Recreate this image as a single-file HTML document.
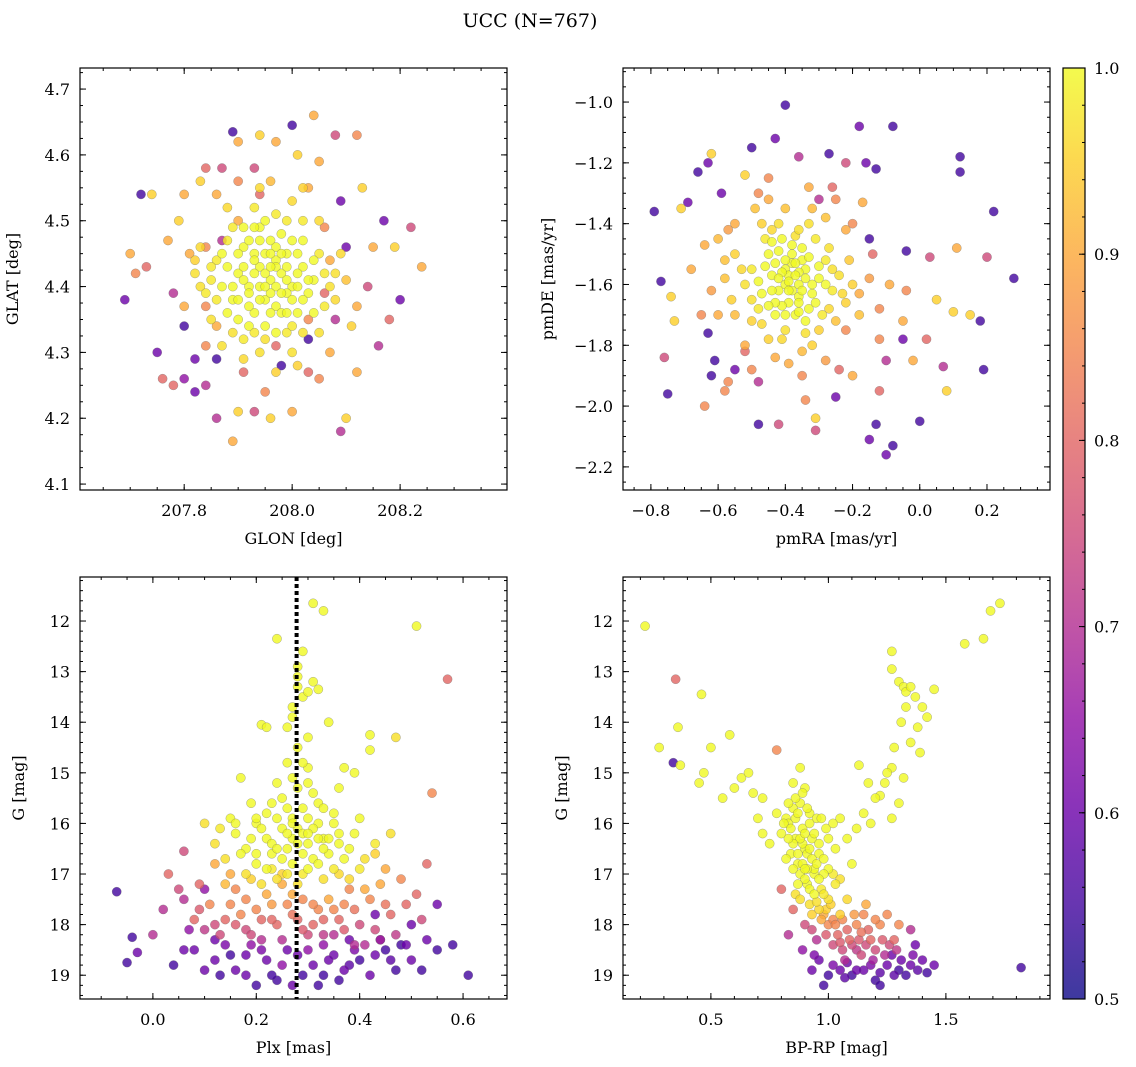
<!DOCTYPE html>
<html><head><meta charset="utf-8"><style>
html,body{margin:0;padding:0;background:#fff;}
svg{display:block;font-family:"DejaVu Serif","Liberation Serif",serif;}
</style></head><body>
<svg id="chart" width="1136" height="1067" viewBox="0 0 1136 1067" xmlns="http://www.w3.org/2000/svg">
<rect width="1136" height="1067" fill="#fff"/>
<text x="530" y="27" text-anchor="middle" font-size="19">UCC (N=767)</text>
</svg>
<script>
// ---- data (x, y, membership probability) ----
const posPoints = [
[207.89,4.635,.55],[207.72,4.54,.55],[207.74,4.54,.95],[207.70,4.45,.9],[207.69,4.38,.6],[207.73,4.43,.8],[207.71,4.42,.85],[207.75,4.30,.6],[207.76,4.26,.8],[207.78,4.25,.8],[207.80,4.26,.65],[207.82,4.24,.6],[207.84,4.25,.7],[207.86,4.20,.7],[207.89,4.165,.9],[207.90,4.21,.95],[207.93,4.21,.75],[207.96,4.20,.95],[208.0,4.21,.9],[208.03,4.27,.8],[208.05,4.26,.85],[208.09,4.18,.7],[208.10,4.20,.95],[208.12,4.27,.9],[208.16,4.31,.7],[208.18,4.35,.8],[208.2,4.38,.6],[208.19,4.46,.95],[208.22,4.49,.75],[208.24,4.43,.9],[208.17,4.50,.6],[208.13,4.55,.95],[208.12,4.63,.85],[208.08,4.63,.75],[208.05,4.59,.9],[208.04,4.66,.9],[208.0,4.645,.55],[208.01,4.60,.95],[207.97,4.62,.9],[207.94,4.63,.95],[207.90,4.62,.9],[207.87,4.58,.75],[207.84,4.58,.8],[207.83,4.56,.95],[207.8,4.54,.9],[207.79,4.50,.95],[207.77,4.47,.9],[207.78,4.39,.7],[207.80,4.34,.55],[207.82,4.29,.6],[207.86,4.29,.55],[207.91,4.27,.8],[207.95,4.24,.85],[207.98,4.28,.55],[208.03,4.32,.55],[208.08,4.35,.7],[208.14,4.40,.75],[208.10,4.46,.6],[208.09,4.53,.6],[208.06,4.49,.85],[207.94,4.54,.8],[207.87,4.47,.7],[207.82,4.44,.95],[207.84,4.37,.85],[207.97,4.31,.8],[208.06,4.39,.8],[208.11,4.34,.95],[208.15,4.46,.9],[207.93,4.58,.75],[208.02,4.55,.95],
[207.90,4.42,1],[207.92,4.40,1],[207.94,4.43,1],[207.96,4.41,1],[207.98,4.42,1],[208.00,4.40,1],[207.95,4.38,1],[207.97,4.37,1],[207.93,4.36,1],[207.99,4.45,1],[207.91,4.46,1],[207.88,4.43,1],[208.02,4.43,1],[208.03,4.39,1],[207.96,4.47,1],[207.94,4.49,1],[207.98,4.48,1],[207.92,4.39,1],[207.89,4.38,1],[207.87,4.40,1],[207.86,4.44,.98],[208.01,4.36,1],[207.95,4.34,1],[207.99,4.33,.98],[208.04,4.41,1],[208.05,4.45,.98],[207.90,4.35,1],[207.93,4.45,1],[207.97,4.44,1],[207.95,4.42,1],[208.00,4.47,1],[207.92,4.47,1],[207.88,4.47,.98],[207.85,4.41,.98],[207.91,4.32,.98],[207.97,4.40,1],[208.02,4.38,1],[207.94,4.40,1],[207.96,4.39,1],[207.98,4.36,1],[207.91,4.43,1],[207.99,4.41,1],[208.06,4.37,.98],[207.84,4.39,.98],[207.93,4.52,.98],[207.97,4.51,.98],[208.02,4.50,.98],[207.89,4.49,.98],[207.85,4.35,.97],[208.05,4.33,.97],[207.87,4.31,.97],[207.94,4.30,.97],[208.00,4.30,.97],[208.08,4.42,.97],[207.82,4.42,.97],[207.95,4.45,1],[207.93,4.42,1],[207.97,4.43,1],[207.99,4.39,1],[208.01,4.42,1],
[207.84,4.46,.85],[208.07,4.44,.9],[207.90,4.50,.9],[208.03,4.35,.85],[207.86,4.34,.9],
[207.91,4.41,1],[207.93,4.44,1],[207.95,4.40,1],[207.97,4.46,1],[207.99,4.43,1],[208.01,4.45,1],[208.03,4.41,1],[207.92,4.37,1],[207.96,4.36,1],[208.00,4.38,1],[207.89,4.40,1],[207.90,4.45,1],[207.94,4.47,1],[207.98,4.39,1],[208.02,4.47,1],[207.96,4.43,1],[207.94,4.38,1],[207.88,4.36,1],[207.92,4.34,1],[208.04,4.36,1],[208.00,4.34,.98],[207.97,4.33,1],[207.93,4.49,1],[207.99,4.50,.98],[207.87,4.45,1],[207.85,4.43,.98],[208.06,4.42,.98],[208.07,4.40,.97],[207.95,4.50,1],[207.91,4.49,1],[207.98,4.45,1],[207.96,4.45,1],[208.01,4.40,1],[207.90,4.38,1],[207.86,4.38,.98],[208.04,4.44,1],[207.93,4.33,.98],[207.99,4.36,1],[208.02,4.33,.97],[207.95,4.32,.97],[207.89,4.33,.97],[207.83,4.40,.97],[207.83,4.46,.96],[208.08,4.38,.96],[208.09,4.45,.96],[207.94,4.55,.96],[208.00,4.53,.96],[207.88,4.52,.96],[208.05,4.50,.96],[207.91,4.29,.96],[208.01,4.28,.95],[207.97,4.27,.95],[207.80,4.37,.9],[207.81,4.45,.9],[208.10,4.41,.93],[208.12,4.37,.9],[207.86,4.54,.9],[208.03,4.55,.9],[207.96,4.56,.92],[207.90,4.56,.85],[208.07,4.30,.9],[207.84,4.31,.85]
];
const pmPoints = [
[-0.79,-1.36,.55],[-0.77,-1.59,.55],[-0.75,-1.96,.55],[-0.76,-1.84,.75],[-0.74,-1.64,.95],[-0.73,-1.72,.95],[-0.71,-1.35,.95],[-0.69,-1.33,.6],[-0.66,-1.23,.55],[-0.63,-1.20,.6],[-0.62,-1.17,.95],[-0.64,-1.47,.9],[-0.64,-2.00,.85],[-0.63,-1.76,.55],[-0.61,-1.85,.55],[-0.59,-1.30,.6],[-0.57,-1.92,.85],[-0.55,-1.88,.6],[-0.52,-1.24,.95],[-0.50,-1.15,.55],[-0.48,-2.06,.55],[-0.43,-1.12,.6],[-0.42,-2.06,.75],[-0.40,-1.01,.55],[-0.36,-1.18,.7],[-0.34,-1.98,.85],[-0.31,-2.04,.95],[-0.31,-2.08,.75],[-0.30,-1.32,.7],[-0.27,-1.17,.55],[-0.25,-1.97,.6],[-0.22,-1.20,.75],[-0.20,-1.40,.85],[-0.18,-1.08,.6],[-0.16,-1.20,.6],[-0.13,-1.22,.55],[-0.15,-2.11,.6],[-0.13,-2.06,.55],[-0.12,-1.95,.8],[-0.10,-2.16,.6],[-0.08,-2.13,.55],[-0.09,-1.60,.9],[-0.05,-1.72,.9],[-0.04,-1.49,.55],[-0.02,-1.85,.9],[0.0,-2.05,.55],[0.02,-1.78,.8],[0.03,-1.51,.75],[0.05,-1.65,.95],[0.07,-1.87,.7],[0.08,-1.95,.95],[0.10,-1.69,.95],[0.11,-1.48,.9],[0.12,-1.18,.55],[0.12,-1.23,.55],[0.15,-1.70,.95],[0.18,-1.72,.55],[0.19,-1.88,.55],[0.20,-1.51,.75],[0.22,-1.36,.55],[0.28,-1.58,.55],[-0.08,-1.08,.55],[-0.14,-1.50,.8],[-0.17,-1.33,.9],[-0.22,-1.75,.85],[-0.12,-1.78,.85],[-0.24,-1.88,.8],[-0.55,-1.40,.9],[-0.60,-1.70,.9],[-0.68,-1.55,.9],[-0.58,-1.95,.85],[-0.20,-1.90,.9],[-0.10,-1.85,.7],[-0.04,-1.62,.85],[-0.26,-1.28,.8],[-0.45,-1.25,.85],[-0.33,-1.28,.9],[-0.52,-1.82,.8],[-0.15,-1.45,.55],[-0.05,-1.78,.6],[-0.48,-1.92,.7],[-0.62,-1.90,.55],
[-0.40,-1.55,1],[-0.36,-1.60,1],[-0.42,-1.62,1],[-0.34,-1.55,1],[-0.38,-1.50,1],[-0.44,-1.57,1],[-0.32,-1.63,1],[-0.39,-1.66,1],[-0.45,-1.50,1],[-0.30,-1.58,1],[-0.41,-1.45,1],[-0.35,-1.48,1],[-0.47,-1.63,1],[-0.28,-1.52,.98],[-0.37,-1.70,1],[-0.43,-1.70,1],[-0.33,-1.68,1],[-0.50,-1.55,.98],[-0.26,-1.62,.98],[-0.40,-1.60,1],[-0.36,-1.56,1],[-0.38,-1.53,1],[-0.46,-1.45,.98],[-0.31,-1.45,.98],[-0.48,-1.68,.98],[-0.29,-1.70,.98],[-0.52,-1.60,.97],[-0.24,-1.57,.97],[-0.40,-1.75,.97],[-0.34,-1.76,.97],[-0.45,-1.78,.95],[-0.55,-1.50,.95],[-0.42,-1.40,.97],[-0.33,-1.40,.97],[-0.22,-1.66,.95],[-0.50,-1.72,.95],[-0.38,-1.62,1],[-0.35,-1.52,1],[-0.43,-1.53,1],[-0.39,-1.57,1],[-0.27,-1.48,.97],[-0.56,-1.65,.95],[-0.30,-1.75,.95],[-0.20,-1.60,.95],[-0.47,-1.40,.95],[-0.37,-1.44,.97],[-0.41,-1.67,1],[-0.32,-1.60,1],[-0.44,-1.62,1],[-0.36,-1.64,1],[-0.58,-1.58,.93],[-0.25,-1.72,.93],[-0.18,-1.70,.93],[-0.52,-1.80,.9],[-0.43,-1.84,.9],[-0.35,-1.82,.92],[-0.60,-1.45,.92],[-0.28,-1.38,.93],[-0.40,-1.35,.93],[-0.49,-1.35,.93],
[-0.39,-1.59,1],[-0.37,-1.57,1],[-0.41,-1.56,1],[-0.35,-1.62,1],[-0.43,-1.66,1],[-0.33,-1.51,1],[-0.46,-1.54,1],[-0.31,-1.66,1],[-0.38,-1.47,1],[-0.42,-1.49,1],[-0.34,-1.72,1],[-0.40,-1.70,1],[-0.48,-1.59,1],[-0.28,-1.60,1],[-0.36,-1.66,1],[-0.44,-1.46,1],[-0.39,-1.62,1],[-0.37,-1.53,1],[-0.45,-1.67,1],[-0.30,-1.54,1],[-0.50,-1.65,.97],[-0.26,-1.55,.97],[-0.53,-1.55,.96],[-0.23,-1.63,.96],[-0.41,-1.78,.96],[-0.36,-1.42,.97],[-0.44,-1.42,.96],[-0.32,-1.80,.95],[-0.47,-1.73,.96],[-0.27,-1.68,.96],[-0.55,-1.70,.92],[-0.21,-1.52,.94],[-0.58,-1.52,.93],[-0.18,-1.63,.9],[-0.39,-1.86,.9],[-0.45,-1.32,.9],[-0.32,-1.35,.92],[-0.62,-1.62,.88],[-0.15,-1.58,.88],[-0.28,-1.85,.88],[-0.50,-1.88,.85],[-0.57,-1.42,.88],[-0.22,-1.42,.9],[-0.65,-1.70,.85],[-0.12,-1.68,.85],[-0.35,-1.90,.85],[-0.48,-1.30,.85],[-0.25,-1.32,.85],[-0.42,-1.58,1],[-0.34,-1.58,1],[-0.40,-1.52,1],[-0.36,-1.69,1]
];
const plxPoints = [
[-0.07,17.35,.55],[-0.04,18.25,.55],[-0.05,18.75,.55],[-0.03,18.55,.6],[0.0,18.2,.7],[0.04,18.8,.55],[0.06,17.5,.7],[0.08,18.5,.6],[0.10,18.9,.6],[0.13,19.0,.55],[0.15,18.6,.55],[0.18,19.0,.6],[0.20,19.2,.55],[0.22,18.7,.6],[0.24,19.1,.55],[0.27,19.2,.6],[0.29,19.0,.55],[0.31,18.8,.6],[0.33,19.0,.55],[0.35,18.6,.6],[0.37,18.9,.6],[0.40,18.7,.55],[0.42,19.0,.6],[0.45,18.5,.55],[0.47,18.9,.55],[0.50,18.7,.6],[0.52,18.9,.55],[0.55,18.5,.55],[0.58,18.4,.55],[0.61,19.0,.55],[0.55,17.6,.6],[0.50,18.0,.6],[0.48,18.4,.55],[0.43,17.8,.6],[0.38,18.3,.6],[0.33,18.4,.65],[0.26,18.5,.6],[0.19,18.4,.65],[0.12,18.3,.6],[0.07,18.1,.65],[0.02,17.7,.7],[0.16,18.9,.6],[0.25,18.8,.65],[0.36,19.1,.55],[0.44,18.3,.6],[0.10,17.3,.65],
[0.03,17.0,.8],[0.06,16.55,.75],[0.09,17.2,.8],[0.11,17.6,.85],[0.14,17.9,.8],[0.16,17.3,.85],[0.18,18.1,.75],[0.20,17.7,.85],[0.22,17.4,.9],[0.24,18.0,.8],[0.26,17.6,.85],[0.28,17.9,.8],[0.30,18.2,.75],[0.32,17.7,.85],[0.34,17.5,.9],[0.36,17.9,.8],[0.38,17.3,.85],[0.40,18.0,.75],[0.42,17.5,.85],[0.44,17.2,.9],[0.46,17.8,.8],[0.48,17.1,.85],[0.51,17.4,.8],[0.53,16.8,.8],[0.57,13.15,.8],[0.54,15.4,.85],[0.13,18.2,.75],[0.21,18.3,.7],[0.35,18.2,.7],[0.41,18.4,.7],[0.08,17.9,.8],[0.17,17.8,.85],[0.29,17.5,.85],[0.37,17.6,.85],[0.25,17.2,.9],[0.15,17.0,.9],[0.45,16.9,.9],[0.12,16.8,.9],[0.31,18.0,.8],[0.23,17.9,.8],
[0.2,16.0,1],[0.22,16.3,1],[0.24,15.9,1],[0.26,16.5,1],[0.28,16.1,1],[0.30,16.4,1],[0.32,16.0,1],[0.34,16.6,1],[0.18,16.5,1],[0.16,16.2,1],[0.36,16.2,1],[0.27,16.8,1],[0.29,17.0,.98],[0.23,16.9,.98],[0.33,17.1,.97],[0.21,17.2,.97],[0.25,15.5,1],[0.29,15.7,1],[0.31,15.4,1],[0.19,15.6,1],[0.35,15.8,1],[0.38,16.5,1],[0.40,16.9,.98],[0.14,16.7,.97],[0.12,16.4,.97],[0.17,15.1,1],[0.26,14.8,1],[0.28,14.5,1],[0.30,14.3,1],[0.27,13.9,1],[0.29,13.5,1],[0.28,13.3,1],[0.30,13.4,1],[0.32,13.35,1],[0.28,12.9,1],[0.29,12.6,1],[0.31,11.65,1],[0.33,11.8,1],[0.24,12.35,1],[0.51,12.1,1],[0.21,14.05,1],[0.22,14.1,1],[0.37,14.9,1],[0.39,15.0,1],[0.42,14.25,1],[0.47,14.3,.97],[0.42,14.55,1],[0.36,15.3,1],[0.24,15.2,1],[0.20,16.8,1],[0.27,16.3,1],[0.31,16.7,1],[0.25,16.1,1],[0.35,16.9,.98],[0.15,15.9,1],[0.40,15.9,1],[0.43,16.4,.98],[0.22,15.8,1],[0.26,17.0,.98],[0.32,15.6,1],[0.18,17.0,.97],[0.38,17.1,.96],[0.10,16.0,.97],[0.46,16.2,.97],[0.34,14.0,1],[0.30,14.9,1],[0.23,16.6,1],[0.29,16.2,1],[0.33,16.3,1],[0.27,15.9,1],
[0.21,16.1,1],[0.23,16.4,1],[0.25,16.7,1],[0.27,16.0,1],[0.29,16.6,1],[0.31,16.1,1],[0.33,16.5,1],[0.35,16.0,1],[0.19,16.3,1],[0.17,16.6,1],[0.22,16.9,1],[0.24,17.1,.97],[0.28,17.2,.97],[0.30,16.9,1],[0.32,16.8,1],[0.34,16.3,1],[0.37,16.7,1],[0.26,15.7,1],[0.28,15.3,1],[0.30,15.9,1],[0.23,15.6,1],[0.20,15.9,1],[0.33,15.7,1],[0.36,16.4,1],[0.39,16.2,1],[0.41,16.7,.97],[0.16,16.0,1],[0.13,16.1,.98],[0.26,16.2,1],[0.28,16.4,1],[0.24,16.5,1],[0.30,16.2,1],[0.32,16.3,1],[0.20,16.6,1],[0.27,15.1,1],[0.29,14.8,1],[0.26,14.1,1],[0.27,13.7,1],[0.31,13.2,1],[0.28,13.1,1],[0.30,15.2,1],[0.25,17.0,.95],[0.36,17.0,.96],[0.19,17.1,.95],[0.43,16.6,.95],[0.14,17.2,.92],
[0.05,17.3,.75],[0.09,17.7,.78],[0.12,18.0,.75],[0.15,17.6,.85],[0.18,17.5,.85],[0.21,17.9,.8],[0.23,17.6,.88],[0.27,17.8,.82],[0.29,18.1,.78],[0.31,17.6,.85],[0.33,17.9,.8],[0.35,17.7,.85],[0.37,18.1,.78],[0.39,17.7,.82],[0.41,17.3,.9],[0.43,18.1,.75],[0.45,17.6,.82],[0.47,18.2,.72],[0.49,17.6,.8],[0.52,17.9,.75],[0.19,18.2,.75],[0.25,18.3,.7],[0.33,18.2,.72],[0.27,17.4,.9],[0.16,18.0,.78],[0.10,18.1,.72],[0.39,18.4,.7],[0.44,18.3,.68],
[0.14,18.4,.62],[0.18,18.6,.6],[0.21,18.5,.62],[0.28,18.6,.6],[0.30,18.5,.65],[0.34,18.7,.6],[0.39,18.5,.62],[0.43,18.6,.6],[0.46,18.7,.58],[0.53,18.3,.6],[0.23,19.0,.55],[0.32,19.2,.55],[0.12,18.7,.6],[0.06,18.5,.6],[0.49,18.4,.6],[0.38,18.8,.58]
];
const cmdPoints = [
[0.22,12.1,1],[0.28,14.5,1],[0.34,14.8,.55],[0.36,14.1,1],[0.37,14.85,1],[0.46,13.45,1],[0.45,15.2,1],[0.47,15.0,1],[0.50,14.5,1],[0.55,15.5,1],[0.58,14.25,1],[0.60,15.3,1],[0.63,15.1,1],[0.66,15.0,1],[0.68,15.4,1],[0.70,15.9,1],[0.72,15.5,1],[0.35,13.15,.8],[0.78,14.55,.85],
[1.27,12.95,1],[1.27,12.6,1],[1.30,13.2,1],[1.32,13.3,1],[1.33,13.4,1],[1.35,13.3,1],[1.37,13.5,1],[1.40,13.7,1],[1.45,13.35,1],[1.42,13.9,1],[1.38,14.1,1],[1.39,14.6,1],[1.35,14.4,1],[1.33,13.7,1],[1.31,14.0,1],[1.28,14.5,1],[1.27,14.9,1],[1.25,15.0,1],[1.24,15.2,1],[1.22,15.45,1],[1.20,15.5,1],[1.17,15.2,1],[1.13,14.85,1],[1.58,12.45,1],[1.66,12.35,1],[1.69,11.8,1],[1.73,11.65,1],[1.30,15.6,1],[1.27,15.9,1],[1.32,15.1,1],
[0.78,15.8,1],[0.82,15.9,1],[0.85,15.7,1],[0.88,15.6,1],[0.80,16.2,1],[0.83,16.0,1],[0.86,16.3,1],[0.89,16.1,1],[0.92,15.8,1],[0.95,15.9,1],[0.84,16.6,1],[0.87,16.8,1],[0.90,16.5,1],[0.93,16.3,1],[0.96,16.6,1],[0.99,16.1,1],[1.02,16.0,1],[1.05,15.9,1],[0.88,17.0,1],[0.91,17.2,1],[0.94,17.0,1],[0.97,17.3,.98],[1.00,16.9,1],[0.86,17.4,.97],[0.92,17.6,.97],[0.96,17.7,.96],[1.00,17.5,.97],[1.03,17.2,.98],[0.82,16.7,1],[0.75,16.4,1],[0.72,16.2,1],[1.08,16.3,1],[1.12,16.1,1],[1.15,15.8,1],[0.90,15.3,1],[0.85,15.2,1],[0.88,14.9,1],[1.05,17.8,.95],[1.08,17.5,.96],[0.94,16.9,1],[0.89,16.4,1],[0.91,16.9,1],[0.98,17.0,1],[1.18,16.0,1],[1.10,16.8,1],
[1.00,18.0,.85],[1.04,18.2,.8],[1.08,18.1,.8],[1.12,18.0,.85],[1.15,17.8,.85],[1.18,18.3,.8],[1.22,18.0,.85],[1.25,17.8,.85],[0.98,17.8,.9],[1.06,18.5,.75],[1.10,18.4,.75],[1.14,18.6,.75],[1.20,18.5,.75],[0.95,18.3,.7],[0.90,18.0,.75],[0.85,17.7,.8],[0.80,17.3,.8],[1.30,18.0,.85],[1.28,18.3,.8],[1.02,18.4,.75],[0.83,18.2,.7],[1.16,17.6,.9],[1.35,18.1,.7],
[0.96,18.7,.6],[1.00,19.0,.55],[1.05,18.9,.6],[1.10,19.0,.55],[1.15,18.9,.6],[1.20,19.1,.55],[1.25,18.8,.6],[1.30,18.9,.55],[1.35,18.8,.6],[1.40,18.7,.6],[1.45,18.8,.6],[1.42,18.95,.55],[0.98,19.2,.55],[1.22,19.2,.55],[0.93,18.9,.6],[1.82,18.85,.55],[1.27,18.6,.6],[1.37,18.4,.6],[1.33,19.0,.55],[1.08,18.75,.6],[0.89,18.5,.65],
[0.84,16.1,1],[0.86,15.9,1],[0.88,16.3,1],[0.90,16.2,1],[0.92,16.0,1],[0.94,16.2,1],[0.96,16.4,1],[0.85,16.4,1],[0.87,16.6,1],[0.89,16.8,1],[0.91,16.6,1],[0.93,16.7,1],[0.95,16.8,1],[0.90,17.1,1],[0.92,17.3,1],[0.94,17.4,1],[0.96,17.1,1],[0.98,17.4,.98],[0.99,17.7,.95],[1.01,17.6,.95],[0.93,17.8,.95],[0.95,17.55,.97],[0.87,17.2,1],[0.85,16.9,1],[0.83,16.3,1],[0.81,16.0,1],[0.87,15.8,1],[0.91,15.7,1],[0.97,15.9,1],[1.00,16.3,1],[1.03,16.5,1],[0.98,16.7,1],[1.02,17.0,.98],[1.05,17.1,.97],[0.86,15.5,1],[0.89,15.4,1],[0.83,15.6,1],[0.90,16.9,1],[0.92,16.5,1],[0.88,17.5,.97],[0.97,17.9,.9],
[1.02,17.9,.85],[1.06,17.9,.85],[1.09,18.3,.8],[1.13,18.3,.78],[1.17,18.1,.8],[1.20,17.9,.85],[1.23,18.3,.78],[1.03,18.0,.85],[1.07,18.7,.7],[1.12,18.5,.72],[1.16,18.4,.75],[1.19,18.7,.68],[1.26,18.4,.75],[0.99,18.2,.78],[1.05,18.35,.78],[0.93,18.1,.75],[1.11,17.8,.88],[1.14,18.15,.82],[1.24,18.6,.7],[1.29,18.5,.72],
[1.02,18.8,.62],[1.12,18.9,.6],[1.18,18.8,.62],[1.28,19.0,.58],[1.36,18.6,.62],[1.31,18.7,.6],[1.22,18.95,.58],[1.07,19.05,.58],[1.38,18.9,.58],[0.94,18.6,.62]
];
const plxMedian = 0.278;
const cbarTicks = [0.5,0.6,0.7,0.8,0.9,1.0];

// ---- rendering ----
const NS = "http://www.w3.org/2000/svg";
const svg = document.getElementById('chart');
function mk(tag, attrs, parent) {
  const e = document.createElementNS(NS, tag);
  for (const k in attrs) e.setAttribute(k, attrs[k]);
  (parent || svg).appendChild(e);
  return e;
}
const stops = ['#0d0887','#41049d','#6a00a8','#8f0da4','#b12a90','#cc4778','#e16462','#f2844b','#fca636','#fcce25','#f0f921'];
function hex(h){return [parseInt(h.substr(1,2),16),parseInt(h.substr(3,2),16),parseInt(h.substr(5,2),16)];}
function plasma(c) {
  let t = Math.max(0, Math.min(1, (c - 0.5) / 0.5)) * 10;
  const i = Math.min(9, Math.floor(t)), f = t - i;
  const a = hex(stops[i]), b = hex(stops[i + 1]);
  return 'rgb(' + a.map((v, k) => Math.round(v + (b[k] - v) * f)).join(',') + ')';
}
function fmt(v, d) { return (v < 0 ? '\u2212' : '') + Math.abs(v).toFixed(d); }

function panel(cfg) {
  const g = mk('g', {});
  
  
  const L = cfg.left, T = cfg.top, W = 427, H = 422;
  const sx = v => L + (v - cfg.x0) / (cfg.x1 - cfg.x0) * W;
  const sy = v => T + H - (v - cfg.y0) / (cfg.y1 - cfg.y0) * H;
  const clip = mk('clipPath', {id: 'clip-' + cfg.name}, g);
  mk('rect', {x: L, y: T, width: W, height: H}, clip);
  const pts = mk('g', {'clip-path': 'url(#clip-' + cfg.name + ')'}, g);
  const sorted = cfg.data.slice().sort((a, b) => a[2] - b[2]);
  sorted.forEach(p => {
    const c = mk('circle', {cx: sx(p[0]), cy: sy(p[1]), r: 4.6, fill: plasma(p[2]), 'fill-opacity': 0.8, stroke: '#666', 'stroke-width': 0.4, 'stroke-opacity': 0.7}, pts);
    
    
  });
  if (cfg.vline !== undefined) {
    const l = mk('line', {x1: sx(cfg.vline), x2: sx(cfg.vline), y1: T, y2: T + H, stroke: '#000', 'stroke-width': 4, 'stroke-dasharray': '4 3'}, pts);
    
    
  }
  const tg = mk('g', {stroke: '#000', 'stroke-width': 1}, g);
  for (let v = cfg.xm0; v <= cfg.x1 + 1e-9; v += cfg.xminor) {
    if (v < cfg.x0) continue;
    const x = sx(v);
    mk('line', {x1: x, x2: x, y1: T + H, y2: T + H - 3}, tg);
    mk('line', {x1: x, x2: x, y1: T, y2: T + 3}, tg);
  }
  for (let v = cfg.ym0; v <= cfg.y1 + 1e-9; v += cfg.yminor) {
    if (v < cfg.y0) continue;
    const y = sy(v);
    mk('line', {x1: L, x2: L + 3, y1: y, y2: y}, tg);
    mk('line', {x1: L + W, x2: L + W - 3, y1: y, y2: y}, tg);
  }
  cfg.xticks.forEach(v => {
    const x = sx(v);
    mk('line', {x1: x, x2: x, y1: T + H, y2: T + H - 6}, tg);
    mk('line', {x1: x, x2: x, y1: T, y2: T + 6}, tg);
    const t = mk('text', {x: x, y: T + H + 26, 'text-anchor': 'middle', 'font-size': 16}, g);
    t.textContent = fmt(v, cfg.xd);
    
    
  });
  cfg.yticks.forEach(v => {
    const y = sy(v);
    mk('line', {x1: L, x2: L + 6, y1: y, y2: y}, tg);
    mk('line', {x1: L + W, x2: L + W - 6, y1: y, y2: y}, tg);
    const t = mk('text', {x: L - 10, y: y + 6, 'text-anchor': 'end', 'font-size': 16}, g);
    t.textContent = fmt(v, cfg.yd);
    
    
  });
  mk('rect', {x: L, y: T, width: W, height: H, fill: 'none', stroke: '#000', 'stroke-width': 1.2}, g);
  const xl = mk('text', {x: L + W / 2, y: T + H + 54, 'text-anchor': 'middle', 'font-size': 16}, g);
  xl.textContent = cfg.xlabel;
  
  
  const yx = L - cfg.ylabOff, yy = T + H / 2;
  const yl = mk('text', {x: yx, y: yy, 'text-anchor': 'middle', 'font-size': 16, transform: 'rotate(-90 ' + yx + ' ' + yy + ')'}, g);
  yl.textContent = cfg.ylabel;
  
  
}

panel({name:'glon-glat-panel', left:80, top:68, x0:207.607, x1:208.398, y0:4.091, y1:4.732, data:posPoints,
  xticks:[207.8,208.0,208.2], xd:1, xm0:207.6, xminor:0.05, yticks:[4.1,4.2,4.3,4.4,4.5,4.6,4.7], yd:1, ym0:4.1, yminor:0.025,
  xlabel:'GLON [deg]', ylabel:'GLAT [deg]', ylabOff:62});
panel({name:'pm-panel', left:623, top:68, x0:-0.883, x1:0.3875, y0:-2.276, y1:-0.888, data:pmPoints,
  xticks:[-0.8,-0.6,-0.4,-0.2,0.0,0.2], xd:1, xm0:-0.85, xminor:0.05, yticks:[-2.2,-2.0,-1.8,-1.6,-1.4,-1.2,-1.0], yd:1, ym0:-2.25, yminor:0.05,
  xlabel:'pmRA [mas/yr]', ylabel:'pmDE [mas/yr]', ylabOff:70});
panel({name:'plx-g-panel', left:80, top:577, x0:-0.141, x1:0.685, y0:19.47, y1:11.13, data:plxPoints, vline:plxMedian,
  xticks:[0.0,0.2,0.4,0.6], xd:1, xm0:-0.1, xminor:0.05, yticks:[], yd:0, ym0:99, yminor:1,
  xlabel:'Plx [mas]', ylabel:'G [mag]', ylabOff:56});
panel({name:'cmd-panel', left:623, top:577, x0:0.126, x1:1.943, y0:19.47, y1:11.13, data:cmdPoints,
  xticks:[0.5,1.0,1.5], xd:1, xm0:0.2, xminor:0.1, yticks:[], yd:0, ym0:99, yminor:1,
  xlabel:'BP-RP [mag]', ylabel:'G [mag]', ylabOff:56});

const gTicks = [12,13,14,15,16,17,18,19];
[80, 623].forEach(L => {
  const T = 577, H = 422, W = 427;
  const sy = v => T + (v - 11.13) / (19.47 - 11.13) * H;
  for (let v = 11.2; v <= 19.41; v += 0.2) {
    const y = sy(v);
    mk('line', {x1: L, x2: L + 3, y1: y, y2: y, stroke: '#000'});
    mk('line', {x1: L + W, x2: L + W - 3, y1: y, y2: y, stroke: '#000'});
  }
  gTicks.forEach(v => {
    const y = sy(v);
    mk('line', {x1: L, x2: L + 6, y1: y, y2: y, stroke: '#000'});
    mk('line', {x1: L + W, x2: L + W - 6, y1: y, y2: y, stroke: '#000'});
    const t = mk('text', {x: L - 10, y: y + 6, 'text-anchor': 'end', 'font-size': 16});
    t.textContent = String(v);
    
    
  });
});

const cb = mk('g', {});


const defs = mk('defs', {}, cb);
const grad = mk('linearGradient', {id: 'cbgrad', x1: 0, y1: 1, x2: 0, y2: 0}, defs);
for (let i = 0; i <= 20; i++) mk('stop', {offset: i / 20, 'stop-color': plasma(0.5 + i / 40), 'stop-opacity': 0.8}, grad);
const CT = 68, CB = 999, CL = 1063, CW = 22;
mk('rect', {x: CL, y: CT, width: CW, height: CB - CT, fill: 'url(#cbgrad)', stroke: '#000', 'stroke-width': 1.2}, cb);
const cy = v => CB - (v - 0.5) / 0.5 * (CB - CT);
for (let v = 0.5; v <= 1.0001; v += 0.02) mk('line', {x1: CL + CW, x2: CL + CW - 3, y1: cy(v), y2: cy(v), stroke: '#000'}, cb);
cbarTicks.forEach(v => {
  mk('line', {x1: CL + CW, x2: CL + CW - 6, y1: cy(v), y2: cy(v), stroke: '#000'}, cb);
  const t = mk('text', {x: CL + CW + 9, y: cy(v) + 6, 'font-size': 16}, cb);
  t.textContent = v.toFixed(1);
  
  
});
</script>
</body></html>
